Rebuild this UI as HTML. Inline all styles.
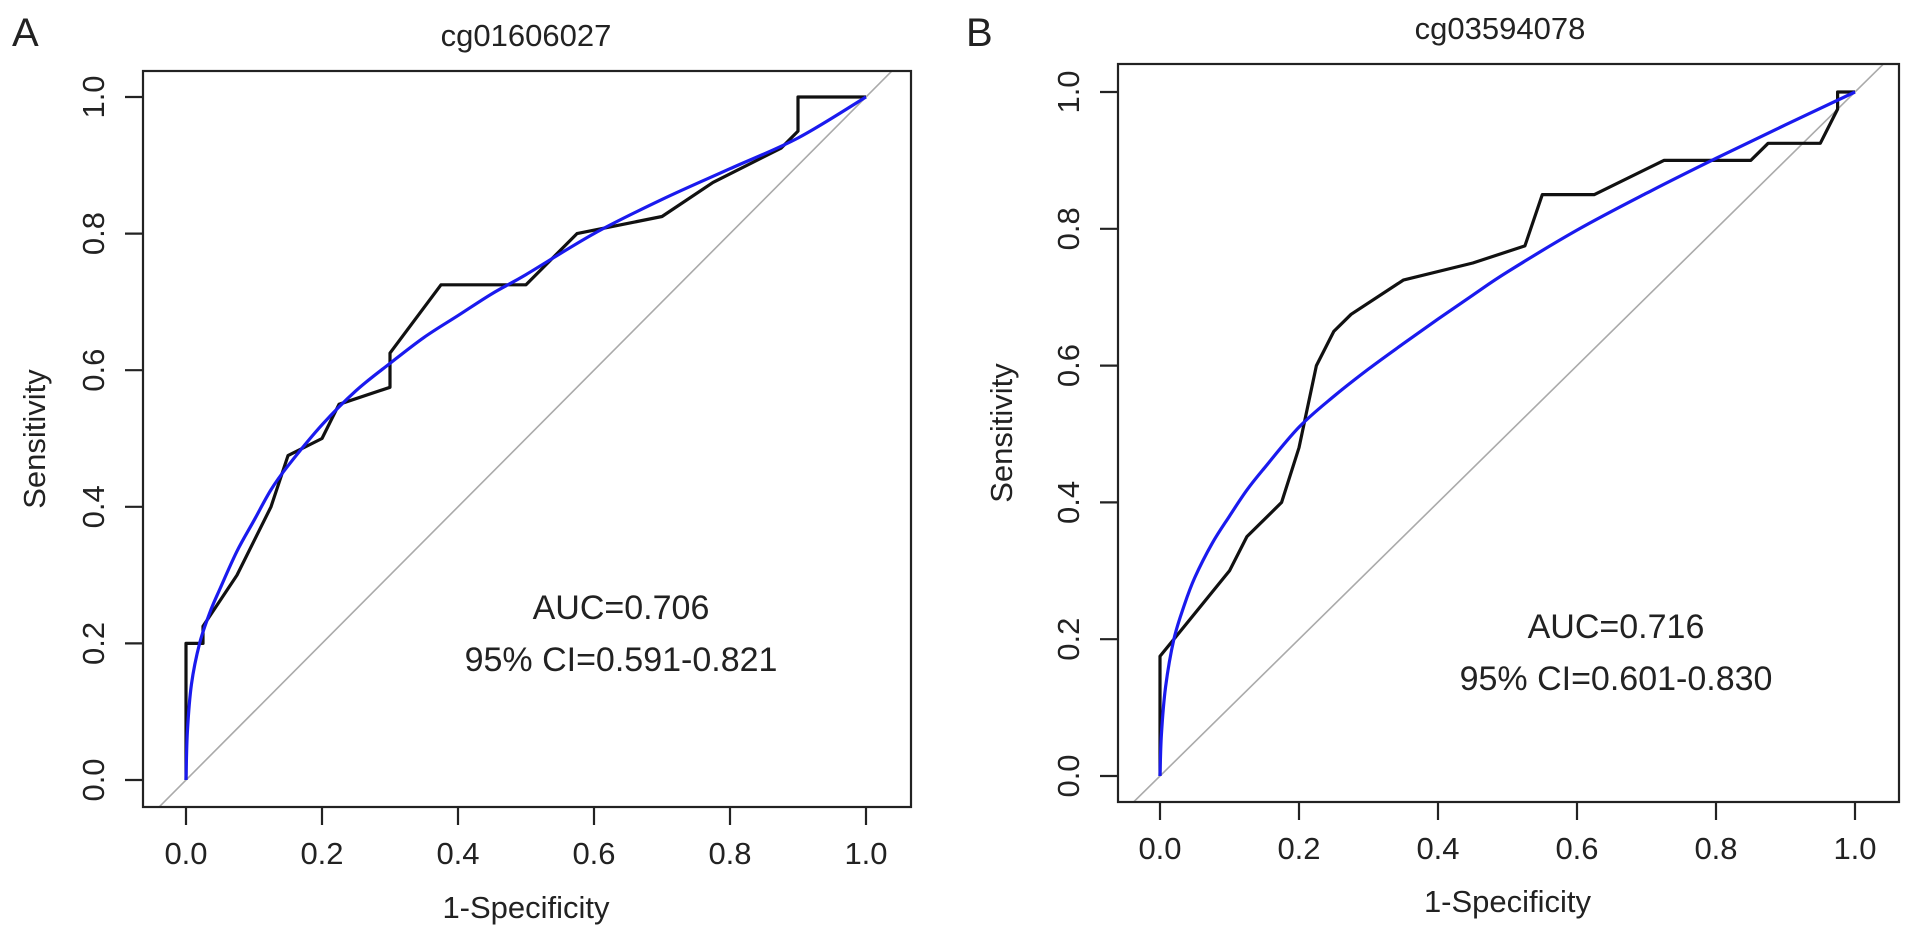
<!DOCTYPE html>
<html><head><meta charset="utf-8">
<style>
html,body{margin:0;padding:0;background:#fff;}
svg{display:block;}
text{font-family:"Liberation Sans",Arial,sans-serif;fill:#222;}
</style></head>
<body>
<svg id="fig" width="1913" height="936" viewBox="0 0 1913 936" xmlns="http://www.w3.org/2000/svg"></svg>
<script>
// ---- data ----
const tickValues = [0.0, 0.2, 0.4, 0.6, 0.8, 1.0];
const tickLabels = ["0.0", "0.2", "0.4", "0.6", "0.8", "1.0"];
const titleA = "cg01606027";
const titleB = "cg03594078";
const aFpr = [0,0,0.025,0.025,0.075,0.125,0.15,0.2,0.225,0.3,0.3,0.375,0.5,0.575,0.7,0.775,0.875,0.9,0.9,1.0];
const aTpr = [0,0.2,0.2,0.225,0.3,0.4,0.475,0.5,0.55,0.575,0.625,0.725,0.725,0.8,0.825,0.875,0.925,0.95,1.0,1.0];
const aSmoothFpr = [0,0.002,0.008,0.02,0.035,0.05,0.075,0.1,0.125,0.15,0.2,0.25,0.3,0.35,0.4,0.45,0.5,0.6,0.7,0.8,0.9,1.0];
const aSmoothTpr = [0,0.07,0.14,0.2,0.245,0.28,0.335,0.38,0.425,0.46,0.52,0.57,0.61,0.648,0.68,0.712,0.74,0.8,0.85,0.895,0.94,1.0];
const bFpr = [0,0,0.1,0.125,0.175,0.2,0.225,0.25,0.275,0.35,0.45,0.525,0.55,0.625,0.725,0.85,0.875,0.95,0.975,0.975,1.0];
const bTpr = [0,0.175,0.3,0.35,0.4,0.48,0.6,0.65,0.675,0.725,0.75,0.775,0.85,0.85,0.9,0.9,0.925,0.925,0.975,1.0,1.0];
const bSmoothFpr = [0,0.002,0.008,0.02,0.035,0.05,0.075,0.1,0.125,0.15,0.2,0.25,0.3,0.35,0.4,0.45,0.5,0.6,0.7,0.8,0.9,1.0];
const bSmoothTpr = [0,0.06,0.13,0.2,0.25,0.29,0.34,0.38,0.418,0.45,0.51,0.555,0.595,0.632,0.668,0.703,0.737,0.798,0.852,0.903,0.952,1.0];
const aucA = ["AUC=0.706", "95% CI=0.591-0.821"];
const aucB = ["AUC=0.716", "95% CI=0.601-0.830"];

const NS = "http://www.w3.org/2000/svg";
const svg = document.getElementById("fig");
function mk(tag, attrs, parent){
  const e = document.createElementNS(NS, tag);
  for (const k in attrs) e.setAttribute(k, attrs[k]);
  (parent||svg).appendChild(e);
  return e;
}
function txt(s, attrs, parent){ const t = mk("text", attrs, parent); t.textContent = s; return t; }

function panel(cfg){
  const g = mk("g", {});
  
  
  const X = v => cfg.x0 + v*(cfg.x1-cfg.x0);
  const Y = v => cfg.y0 + v*(cfg.y1-cfg.y0);
  const clipId = cfg.name + "-clip";
  const cp = mk("clipPath", {id: clipId}, g);
  mk("rect", {x: cfg.L, y: cfg.T, width: cfg.R-cfg.L, height: cfg.B-cfg.T}, cp);
  const diag = mk("line", {x1: X(-0.06), y1: Y(-0.06), x2: X(1.06), y2: Y(1.06), stroke:"#aaa", "stroke-width":1.6, "clip-path":"url(#"+clipId+")"}, g);
  
  
  let d = cfg.fpr.map((v,i)=>(i?"L":"M")+X(v).toFixed(1)+" "+Y(cfg.tpr[i]).toFixed(1)).join(" ");
  const emp = mk("path", {d, fill:"none", stroke:"#111", "stroke-width":3.2, "stroke-linejoin":"round"}, g);
  
  
  const pts = cfg.sf.map((v,i)=>[X(v), Y(cfg.st[i])]);
  let s = "M"+pts[0][0]+" "+pts[0][1];
  for (let i=0;i<pts.length-1;i++){
    const p0 = pts[Math.max(0,i-1)], p1 = pts[i], p2 = pts[i+1], p3 = pts[Math.min(pts.length-1,i+2)];
    const c1 = [p1[0]+(p2[0]-p0[0])/6, p1[1]+(p2[1]-p0[1])/6];
    const c2 = [p2[0]-(p3[0]-p1[0])/6, p2[1]-(p3[1]-p1[1])/6];
    s += " C"+c1.join(" ")+" "+c2.join(" ")+" "+p2.join(" ");
  }
  const sm = mk("path", {d:s, fill:"none", stroke:"#1a1aee", "stroke-width":3.2}, g);
  
  
  const box = mk("rect", {x: cfg.L, y: cfg.T, width: cfg.R-cfg.L, height: cfg.B-cfg.T, fill:"none", stroke:"#222", "stroke-width":2.2}, g);
  
  
  tickValues.forEach((v,i)=>{
    mk("line", {x1:X(v), y1:cfg.B, x2:X(v), y2:cfg.B+18, stroke:"#222", "stroke-width":2.2}, g);
    const t = txt(tickLabels[i], {x:X(v), y:cfg.B+57, "text-anchor":"middle", "font-size":31}, g);
    
    
  });
  tickValues.forEach((v,i)=>{
    mk("line", {x1:cfg.L, y1:Y(v), x2:cfg.L-18, y2:Y(v), stroke:"#222", "stroke-width":2.2}, g);
    const t = txt(tickLabels[i], {x:0, y:0, "text-anchor":"middle", "font-size":31,
      transform:"translate("+(cfg.L-39)+","+Y(v)+") rotate(-90)"}, g);
    
    
  });
  const xt = txt("1-Specificity", {x:(X(0)+X(1))/2, y:cfg.xTitleY, "text-anchor":"middle", "font-size":31}, g);
  
  
  const yt = txt("Sensitivity", {x:0, y:0, "text-anchor":"middle", "font-size":31,
    transform:"translate("+cfg.yTitleX+","+((cfg.T+cfg.B)/2)+") rotate(-90)"}, g);
  
  
  const ti = txt(cfg.title, {x:cfg.titleX, y:cfg.titleY, "text-anchor":"middle", "font-size":31}, g);
  
  
  const lb = txt(cfg.letter, {x:cfg.letterX, y:46, "font-size":40}, g);
  
  
  const a1 = txt(cfg.auc[0], {x:cfg.aucX, y:cfg.aucY, "text-anchor":"middle", "font-size":34}, g);
  
  
  const a2 = txt(cfg.auc[1], {x:cfg.aucX, y:cfg.aucY+52, "text-anchor":"middle", "font-size":34}, g);
  
  
}

panel({name:"panel-a", letter:"A", letterX:12, title:titleA, titleX:526, titleY:46,
  x0:186, x1:866, y0:780, y1:97, L:143, R:911, T:71, B:807, xTitleY:918,
  fpr:aFpr, tpr:aTpr, sf:aSmoothFpr, st:aSmoothTpr, auc:aucA, aucX:621, aucY:619, yTitleX:45});
panel({name:"panel-b", letter:"B", letterX:966, title:titleB, titleX:1500, titleY:39,
  x0:1160, x1:1855, y0:776, y1:92, L:1118, R:1899, T:64, B:802, xTitleY:912,
  fpr:bFpr, tpr:bTpr, sf:bSmoothFpr, st:bSmoothTpr, auc:aucB, aucX:1616, aucY:638, yTitleX:1012});
</script>
</body></html>
